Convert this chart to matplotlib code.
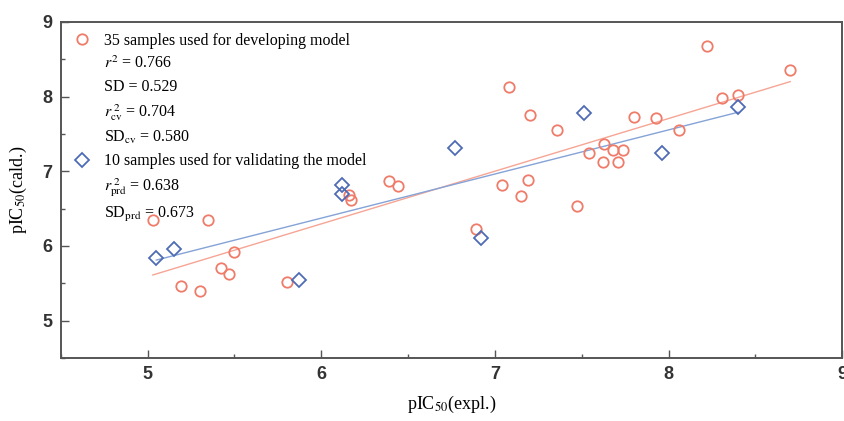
import numpy as np
import matplotlib
matplotlib.use('Agg')
import matplotlib.pyplot as plt
from matplotlib.lines import Line2D

# 训练集 (pIC50 实验值, 计算值)
train_x = [5.03, 5.19, 5.30, 5.35, 5.42, 5.47, 5.50, 5.80, 6.16, 6.17,
           6.39, 6.44, 6.89, 7.04, 7.08, 7.15, 7.19, 7.20, 7.36, 7.47,
           7.54, 7.62, 7.63, 7.68, 7.71, 7.74, 7.80, 7.93, 8.06, 8.22,
           8.31, 8.40, 8.70]
train_y = [6.34, 5.46, 5.39, 6.34, 5.70, 5.62, 5.92, 5.51, 6.68, 6.61,
           6.87, 6.80, 6.23, 6.82, 8.13, 6.67, 6.88, 7.75, 7.55, 6.53,
           7.24, 7.13, 7.36, 7.28, 7.13, 7.29, 7.73, 7.71, 7.55, 8.68,
           7.98, 8.02, 8.35]

# 验证集
test_x = [5.05, 5.15, 5.87, 6.12, 6.12, 6.77, 6.92, 7.51, 7.96, 8.40]
test_y = [5.84, 5.96, 5.54, 6.82, 6.69, 7.31, 6.11, 7.78, 7.24, 7.86]

# 拟合线端点
fit_train_x = [5.03, 8.70]
fit_train_y = [5.61, 8.20]
fit_test_x = [5.05, 8.40]
fit_test_y = [5.81, 7.79]

red = '#EF7B69'
blue = '#4E6CB6'

plt.rcParams['mathtext.fontset'] = 'stix'

fig = plt.figure(figsize=(8.44, 4.21), dpi=100)
ax = fig.add_axes([0.072, 0.150, 0.926, 0.798])

ax.plot(fit_train_x, fit_train_y, color='#F6A595', lw=1.0, zorder=1)
ax.plot(fit_test_x, fit_test_y, color='#85A3D6', lw=1.0, zorder=1)
ax.plot(train_x, train_y, 'o', ms=7.5, mfc='none', mec=red, mew=1.3, zorder=2)
ax.plot(test_x, test_y, 'D', ms=7, mfc='none', mec=blue, mew=1.3, zorder=3)

ax.set_xlim(4.5, 9)
ax.set_ylim(4.5, 9)
ax.set_xticks([5, 6, 7, 8, 9])
ax.set_yticks([5, 6, 7, 8, 9])
ax.set_xticks(np.arange(4.5, 9.01, 0.5), minor=True)
ax.set_yticks(np.arange(4.5, 9.01, 0.5), minor=True)
ax.tick_params(which='major', direction='in', length=6, width=1, color='#555555',
               labelsize=13, pad=6)
ax.tick_params(which='minor', direction='in', length=3, width=1, color='#555555')
ax.tick_params(top=False, right=False, which='both')
for lab in ax.get_xticklabels() + ax.get_yticklabels():
    lab.set_fontfamily('Liberation Sans')
    lab.set_fontweight('bold')
    lab.set_color('#333333')
for sp in ax.spines.values():
    sp.set_color('#555555')
    sp.set_linewidth(1.4)

ax.set_xlabel(r'pIC$_{50}$(expl.)', family='Liberation Serif', fontsize=13, labelpad=8)
ax.set_ylabel(r'pIC$_{50}$(cald.)', family='Liberation Serif', fontsize=13, labelpad=10)

# 图例
blank = Line2D([], [], ls='none', marker='none')
handles = [Line2D([], [], ls='none', marker='o', ms=7.5, mfc='none', mec=red, mew=1.3),
           blank, blank, blank, blank,
           Line2D([], [], ls='none', marker='D', ms=7, mfc='none', mec=blue, mew=1.3),
           blank, blank]
labels = ['35 samples used for developing model',
          r'$r^{2}$ = 0.766',
          'SD = 0.529',
          r'$r_{\mathrm{cv}}^{\ 2}$ = 0.704',
          r'SD$_{\mathrm{cv}}$ = 0.580',
          '10 samples used for validating the model',
          r'$r_{\mathrm{prd}}^{\ 2}$ = 0.638',
          r'SD$_{\mathrm{prd}}$ = 0.673']
ax.legend(handles, labels, loc='upper left', frameon=False,
          prop={'family': 'Liberation Serif', 'size': 11.5},
          labelspacing=0.42, handletextpad=0.8, handlelength=1.2,
          borderaxespad=0.3, bbox_to_anchor=(0.0, 1.0))

plt.savefig('out.png', dpi=100)
